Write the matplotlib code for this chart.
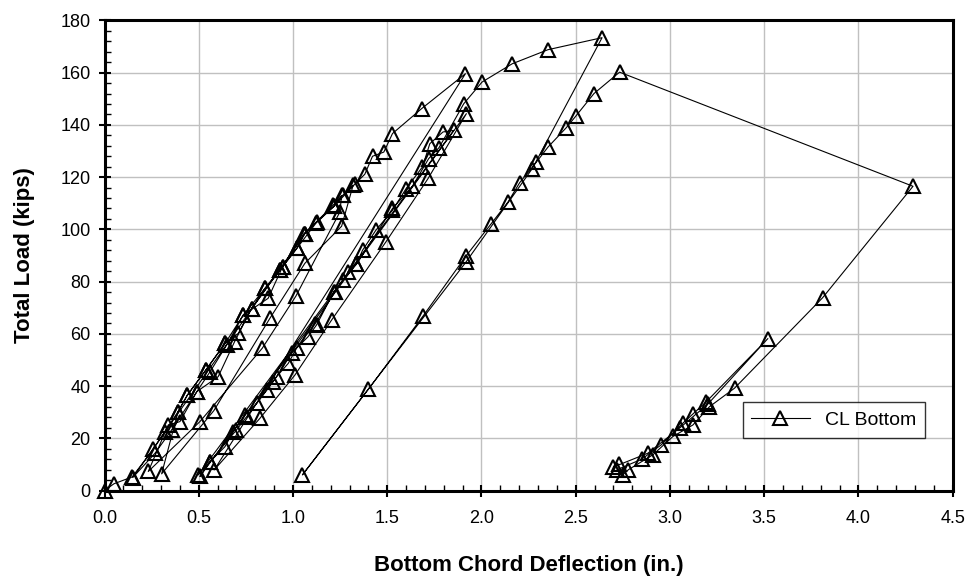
import numpy as np
import matplotlib
matplotlib.use("Agg")
import matplotlib.pyplot as plt
from matplotlib.ticker import MultipleLocator

plt.rcParams['font.family'] = ['Liberation Sans', 'DejaVu Sans']

# odczytane punkty (ugiecie [in.], obciazenie [kips]) - kolejne cykle
defl = [
    # pierwsze obciazenie
    0.0, 0.05, 0.146, 0.259, 0.32, 0.39, 0.44, 0.538, 0.64, 0.71, 0.78, 0.851, 0.93, 1.02, 1.063,
    0.15,
    0.268, 0.356, 0.49, 0.56, 0.648, 0.736, 0.868, 0.945, 1.058, 1.125, 1.217, 1.258,
    1.249, 1.015, 0.837, 0.506, 0.232,
    0.338, 0.40, 0.49, 0.603, 0.69, 0.78, 0.93, 1.063, 1.213, 1.263, 1.319,
    1.258, 1.063, 0.877, 0.58, 0.303,
    0.39, 0.44, 0.538, 0.64, 0.736, 0.851, 0.945, 1.02, 1.121, 1.217, 1.328, 1.381, 1.422,
    1.482, 1.528, 1.682, 1.915,
    # odciazenie i kolejne cykle
    0.582,
    0.825, 1.01, 1.205, 1.493, 1.717, 1.92,
    0.506,
    0.56, 0.639, 0.683, 0.745, 0.807, 0.86, 0.913, 0.975, 1.019, 1.08, 1.125, 1.217, 1.266,
    1.337, 1.369, 1.44, 1.528, 1.6, 1.687, 1.726, 1.796, 1.853,
    0.497,
    0.56, 0.70, 0.754, 0.895, 0.993, 1.116, 1.222, 1.293, 1.337, 1.528, 1.634, 1.72, 1.775,
    1.906, 2.003, 2.163, 2.353, 2.64,
    2.27, 1.917, 1.05,
    1.40, 1.69, 1.917, 2.05, 2.141, 2.203, 2.292, 2.353, 2.451, 2.5, 2.597, 2.733,
    4.29, 3.81, 3.343, 3.21, 3.122, 3.016, 2.91, 2.78, 2.75,
    2.72, 2.85, 2.954, 3.069, 3.122, 3.193, 3.52,
    3.2, 3.051, 2.883, 2.70, 2.73,
]
load = [
    0.0, 2.6, 5.2, 15.8, 22.6, 30.2, 36.6, 46.2, 56.4, 60.2, 69.7, 77.4, 84.4, 92.7, 98.4,
    5.0,
    14.3, 23.2, 37.9, 45.5, 55.7, 67.2, 73.6, 85.7, 98.4, 102.9, 108.8, 113.0,
    106.7, 74.4, 54.5, 26.4, 7.3,
    25.1, 26.4, 37.9, 43.6, 57.0, 69.7, 84.4, 98.4, 109.3, 113.0, 116.9,
    101.2, 87.0, 65.9, 30.6, 6.4,
    30.2, 36.6, 46.2, 56.4, 67.2, 77.4, 85.7, 92.7, 102.3, 108.8, 117.3, 121.1, 128.0,
    129.6, 136.7, 146.2, 159.6,
    7.9,
    27.7, 44.2, 65.3, 95.2, 119.5, 144.3,
    5.4,
    11.1, 16.8, 22.6, 28.9, 33.4, 38.5, 43.6, 48.7, 54.5, 58.9, 63.4, 76.1, 80.6,
    86.7, 92.0, 99.7, 107.3, 115.6, 123.9, 132.8, 137.3, 137.9,
    6.0,
    11.1, 23.2, 28.3, 41.7, 52.5, 63.7, 76.1, 83.7, 86.7, 108.0, 116.5, 127.1, 131.3,
    148.1, 156.4, 163.4, 168.8, 173.4,
    123.3, 87.4, 6.0,
    38.8, 66.8, 89.7, 102.0, 110.5, 117.9, 125.8, 131.5, 139.0, 143.3, 152.0, 160.2,
    116.5, 73.8, 39.2, 32.1, 25.1, 20.7, 13.7, 8.0, 6.0,
    8.0, 12.0, 17.5, 25.8, 29.3, 34.0, 58.2,
    33.0, 23.9, 14.3, 9.0, 10.0,
]

fig = plt.figure(figsize=(9.77, 5.84), dpi=100)
ax = fig.add_axes([0.107, 0.16, 0.868, 0.805])

ax.plot(defl, load, color='black', linewidth=0.8, marker='^', markersize=9.5,
        markerfacecolor='none', markeredgecolor='black', markeredgewidth=1.5,
        label='CL Bottom', clip_on=False, zorder=3)

ax.set_xlim(0, 4.5)
ax.set_ylim(0, 180)
ax.xaxis.set_major_locator(MultipleLocator(0.5))
ax.xaxis.set_minor_locator(MultipleLocator(0.1))
ax.yaxis.set_major_locator(MultipleLocator(20))
ax.yaxis.set_minor_locator(MultipleLocator(4))
ax.xaxis.set_major_formatter(matplotlib.ticker.FormatStrFormatter('%.1f'))
ax.grid(True, which='major', color='#c0c0c0', linewidth=1.0)
ax.set_axisbelow(True)

for s in ax.spines.values():
    s.set_linewidth(2.2)
ax.tick_params(which='major', direction='inout', length=8, width=1.5, labelsize=13)
ax.tick_params(axis='x', which='major', pad=10)
ax.tick_params(axis='y', which='major', pad=6)
ax.tick_params(which='minor', direction='in', length=4, width=1.0)

ax.set_xlabel('Bottom Chord Deflection (in.)', fontsize=16, fontweight='bold', labelpad=20)
ax.set_ylabel('Total Load (kips)', fontsize=16, fontweight='bold', labelpad=18)

leg = ax.legend(loc='center', bbox_to_anchor=(0.86, 0.15), fontsize=14, frameon=True,
                fancybox=False, handlelength=3.0, borderpad=0.45)
leg.get_frame().set_edgecolor('black')
leg.get_frame().set_linewidth(1.0)

plt.savefig('out.png', dpi=100)
